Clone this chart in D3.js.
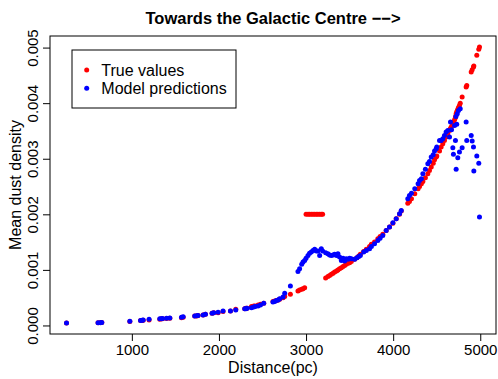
<!DOCTYPE html>
<html>
<head>
<meta charset="utf-8">
<script src="https://cdn.jsdelivr.net/npm/d3@7"></script>
<style>
  body { margin: 0; background: #fff; }
  text { font-family: "Liberation Sans", Arial, Helvetica, sans-serif; fill: #000; }
</style>
</head>
<body>
<div id="chart"></div>
<script>
const distance = [
  250, 612, 640, 655, 977, 1100, 1118, 1130, 1198, 1321,
  1340, 1352, 1398, 1436, 1570, 1589, 1722, 1745, 1760, 1818,
  1845, 1921, 1940, 1990, 2047, 2132, 2193, 2296, 2310, 2322,
  2373, 2399, 2415, 2449, 2476, 2514, 2620, 2640, 2659, 2680,
  2697, 2736, 2755, 2820, 2907, 2926, 2950, 2965, 2984, 3000,
  3022, 3040, 3060, 3080, 3099, 3118, 3136, 3156, 3175, 3190,
  3225, 3251, 3270, 3290, 3310, 3328, 3350, 3366, 3385, 3405,
  3425, 3443, 3462, 3481, 3500, 3520, 3557, 3584, 3605, 3623,
  3661, 3692, 3729, 3750, 3786, 3824, 3850, 3881, 3920, 3958,
  3997, 4035, 4073, 4093, 4168, 4187, 4210, 4248, 4286, 4303,
  4324, 4341, 4370, 4398, 4417, 4437, 4460, 4475, 4494, 4501,
  4532, 4551, 4570, 4589, 4608, 4627, 4647, 4658, 4670, 4685,
  4692, 4705, 4715, 4720, 4723, 4730, 4736, 4742, 4750, 4761,
  4770, 4792, 4838, 4845, 4896, 4907, 4922, 4926, 4960, 4983,
  4991
];

const trueValues = [
  0.000045, 0.00005, 0.000052, 0.000053, 0.00007, 0.00009, 0.00009, 0.000095, 0.0001, 0.00011,
  0.00012, 0.00012, 0.000125, 0.00013, 0.00014, 0.00015, 0.00017, 0.00017, 0.00018, 0.00019,
  0.0002, 0.00022, 0.00023, 0.00023, 0.00025, 0.00026, 0.00029, 0.0003, 0.00031, 0.00031,
  0.00034, 0.00035, 0.00035, 0.00037, 0.00038, 0.0004, 0.00043, 0.00044, 0.00045, 0.00046,
  0.00047, 0.0005, 0.00052, 0.00056, 0.00062, 0.00064, 0.00065, 0.00066, 0.00068, 0.002,
  0.002, 0.002, 0.002, 0.002, 0.002, 0.002, 0.002, 0.002, 0.002, 0.002,
  0.000855, 0.00088, 0.0009, 0.00092, 0.00094, 0.00096, 0.00098, 0.001, 0.00102, 0.00104,
  0.00106, 0.00108, 0.0011, 0.00112, 0.00113, 0.00115, 0.00119, 0.00122, 0.00125, 0.00128,
  0.00133, 0.00137, 0.00142, 0.00146, 0.0015, 0.00156, 0.0016, 0.00164, 0.00171, 0.00177,
  0.00184, 0.00192, 0.002, 0.00206, 0.0022, 0.00223, 0.00228, 0.00237, 0.00246, 0.0025,
  0.00255, 0.00259, 0.00266, 0.00273, 0.00279, 0.00285, 0.00292, 0.00298, 0.00303, 0.00305,
  0.00314, 0.00321, 0.00327, 0.00333, 0.00339, 0.00345, 0.00351, 0.00355, 0.00358, 0.00363,
  0.00366, 0.0037, 0.00374, 0.00377, 0.00381, 0.00384, 0.00386, 0.00389, 0.00392, 0.00396,
  0.004, 0.00411, 0.00429, 0.00432, 0.00456, 0.0046, 0.00465, 0.00467, 0.00486, 0.00497,
  0.00501
];

const predicted = [
  0.000045, 0.00005, 0.00005, 0.000055, 0.000075, 0.00009, 0.000095, 0.0001, 0.00011, 0.00012,
  0.00012, 0.000125, 0.00013, 0.000135, 0.00015, 0.000155, 0.00017, 0.000175, 0.00018, 0.00019,
  0.0002, 0.00022, 0.00023, 0.00024, 0.00026, 0.00026, 0.00028, 0.0003, 0.0003, 0.00031,
  0.00032, 0.00033, 0.00034, 0.00035, 0.00037, 0.0004, 0.00042, 0.00043, 0.00045, 0.00046,
  0.00048, 0.00051, 0.00058, 0.00071, 0.00097, 0.00102, 0.0011, 0.00114, 0.00117, 0.00121,
  0.00126, 0.0013, 0.00132, 0.00135, 0.00137, 0.00134, 0.00134, 0.00126, 0.00138, 0.00134,
  0.00131, 0.00129, 0.00127, 0.00126, 0.00127, 0.00128, 0.00126, 0.00129, 0.00123, 0.00117,
  0.00121, 0.00116, 0.0012, 0.00119, 0.00121, 0.0012, 0.00119, 0.00122, 0.00124, 0.00126,
  0.00132, 0.00135, 0.00138, 0.00142, 0.00147, 0.00153, 0.00157, 0.00162, 0.00171, 0.00177,
  0.00185, 0.00192, 0.00201, 0.00207, 0.00228, 0.00234, 0.00238, 0.00246, 0.00255, 0.00261,
  0.00264, 0.00273, 0.00281, 0.00291, 0.00295, 0.00303, 0.00307, 0.00314, 0.00318, 0.00321,
  0.00333, 0.00333, 0.00336, 0.00342, 0.00348, 0.00351, 0.00339, 0.00366, 0.00352, 0.0032,
  0.00308, 0.0036, 0.00333, 0.00376, 0.00281, 0.00362, 0.00381, 0.00302, 0.00387, 0.00312,
  0.0039, 0.0032, 0.00366, 0.00333, 0.00342, 0.00332, 0.00321, 0.00278, 0.00305, 0.00292,
  0.00195
];

const xTicks = [1000, 2000, 3000, 4000, 5000];
const yTicks = [0, 0.001, 0.002, 0.003, 0.004, 0.005];
const seriesNames = ["True values", "Model predictions"];
const seriesColors = ["#ff0000", "#0000ff"];

let width = 498;
let height = 379;
let box = { left: 50, top: 36, right: 496, bottom: 334 };

let svg = d3.select('#chart').append('svg')
  .attr('width', width)
  .attr('height', height);

// R style axis extent: data range plus 4% each side
let xExt = d3.extent(distance);
let xPad = (xExt[1] - xExt[0]) * 0.04;
let x = d3.scaleLinear()
  .domain([xExt[0] - xPad, xExt[1] + xPad])
  .range([box.left, box.right]);

let yExt = d3.extent(trueValues.concat(predicted));
let yPad = (yExt[1] - yExt[0]) * 0.04;
let y = d3.scaleLinear()
  .domain([yExt[0] - yPad, yExt[1] + yPad])
  .range([box.bottom, box.top]);

let points = distance.map((d, i) => ({ d: d, t: trueValues[i], p: predicted[i] }));

svg.append('g').selectAll('circle')
  .data(points)
  .enter().append('circle')
    .attr('cx', d => x(d.d))
    .attr('cy', d => y(d.t))
    .attr('r', 2.5)
    .style('fill', seriesColors[0]);

svg.append('g').selectAll('circle')
  .data(points)
  .enter().append('circle')
    .attr('cx', d => x(d.d))
    .attr('cy', d => y(d.p))
    .attr('r', 2.5)
    .style('fill', seriesColors[1]);

svg.append('rect')
  .attr('x', box.left)
  .attr('y', box.top)
  .attr('width', box.right - box.left)
  .attr('height', box.bottom - box.top)
  .style('fill', 'none')
  .style('stroke', '#000')
  .style('stroke-width', 1);

let xAxis = svg.append('g')
  .attr('transform', 'translate(0,' + box.bottom + ')')
  .call(d3.axisBottom(x).tickValues(xTicks).tickSize(7).tickSizeOuter(0).tickPadding(3).tickFormat(d3.format('d')));
xAxis.select('.domain').remove();
xAxis.selectAll('text').style('font-size', '15px');

let yAxis = svg.append('g')
  .attr('transform', 'translate(' + box.left + ',0)')
  .call(d3.axisLeft(y).tickValues(yTicks).tickSize(7).tickSizeOuter(0).tickFormat(d3.format('.3f')));
yAxis.select('.domain').remove();
yAxis.selectAll('text')
  .style('font-size', '15px')
  .attr('text-anchor', 'middle')
  .attr('x', 0)
  .attr('dy', 0)
  .attr('transform', 'translate(-12,0) rotate(-90)');

svg.selectAll('.tick line').style('stroke', '#000');

svg.append('text')
  .attr('x', (box.left + box.right) / 2)
  .attr('y', 24)
  .attr('text-anchor', 'middle')
  .style('font-size', '16.5px')
  .style('font-weight', 'bold')
  .text('Towards the Galactic Centre \u2212\u2212>');

svg.append('text')
  .attr('x', (box.left + box.right) / 2)
  .attr('y', 373)
  .attr('text-anchor', 'middle')
  .style('font-size', '16px')
  .text('Distance(pc)');

svg.append('text')
  .attr('transform', 'translate(21,' + (box.top + box.bottom) / 2 + ') rotate(-90)')
  .attr('text-anchor', 'middle')
  .style('font-size', '16px')
  .text('Mean dust density');

let legend = svg.append('g').attr('transform', 'translate(72,50)');
legend.append('rect')
  .attr('width', 164)
  .attr('height', 58)
  .style('fill', '#fff')
  .style('stroke', '#000');
let item = legend.selectAll('.item')
  .data(seriesNames)
  .enter().append('g')
    .attr('class', 'item')
    .attr('transform', (d, i) => 'translate(0,' + (20 + i * 18.3) + ')');
item.append('circle')
  .attr('cx', 14.7)
  .attr('r', 2.5)
  .style('fill', (d, i) => seriesColors[i]);
item.append('text')
  .attr('x', 29.3)
  .attr('dy', '0.36em')
  .style('font-size', '16px')
  .text(d => d);
</script>
</body>
</html>
